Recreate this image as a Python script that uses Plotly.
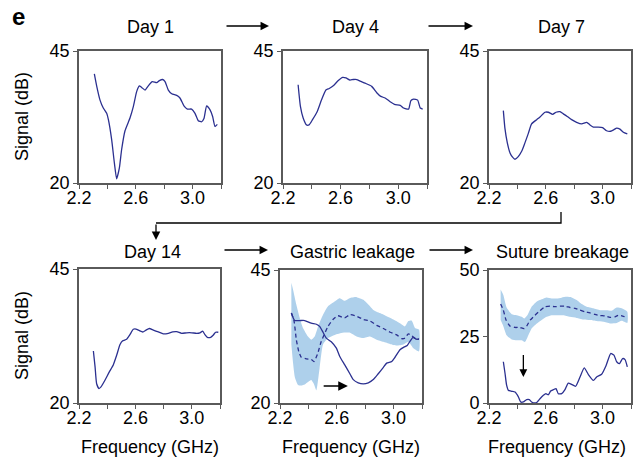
import plotly.graph_objects as go

# ---------------- data ----------------
day1_freq = [2.308, 2.325, 2.348, 2.371, 2.395, 2.407, 2.430, 2.449, 2.465, 2.484, 2.500, 2.524, 2.559, 2.583,
             2.606, 2.625, 2.641, 2.665, 2.688, 2.716, 2.747, 2.766, 2.789, 2.806, 2.829, 2.853, 2.888, 2.911,
             2.939, 2.963, 2.993, 3.017, 3.040, 3.064, 3.080, 3.099, 3.122, 3.141, 3.158, 3.174]
day1_sig = [40.65, 38.3, 35.7, 34.2, 33.2, 32.0, 28.2, 23.8, 20.8, 22.8, 26.3, 29.9, 32.3, 34.5,
            37.3, 38.4, 38.1, 37.6, 38.4, 39.2, 39.0, 39.4, 39.6, 39.2, 37.6, 36.9, 36.6, 36.1,
            34.6, 34.0, 34.0, 33.2, 31.8, 31.6, 32.2, 34.6, 33.9, 32.6, 30.7, 31.1]

day4_freq = [2.305, 2.321, 2.340, 2.363, 2.381, 2.405, 2.437, 2.467, 2.498, 2.521, 2.549, 2.584, 2.614, 2.637,
             2.665, 2.688, 2.712, 2.735, 2.770, 2.816, 2.851, 2.879, 2.909, 2.944, 2.974, 3.014, 3.037, 3.072,
             3.088, 3.107, 3.135, 3.153, 3.170]
day4_sig = [38.6, 34.5, 32.3, 31.0, 31.0, 32.0, 33.5, 35.7, 37.6, 37.9, 38.4, 39.4, 40.0, 39.9,
            39.5, 39.6, 39.6, 39.3, 38.9, 38.3, 37.1, 36.4, 36.1, 35.4, 34.9, 34.7, 34.2, 34.0,
            35.6, 35.9, 35.7, 34.2, 34.0]

day7_freq = [2.301, 2.312, 2.329, 2.348, 2.366, 2.383, 2.406, 2.430, 2.453, 2.477, 2.500, 2.536, 2.559, 2.594,
             2.618, 2.648, 2.672, 2.700, 2.723, 2.751, 2.782, 2.817, 2.853, 2.888, 2.911, 2.935, 2.969, 3.000,
             3.028, 3.057, 3.080, 3.099, 3.122, 3.146, 3.174]
day7_sig = [33.7, 30.4, 27.6, 25.7, 24.9, 24.5, 25.0, 26.0, 27.6, 29.4, 31.2, 32.0, 32.5, 33.4,
            33.4, 33.0, 33.4, 33.5, 33.1, 32.6, 32.0, 31.5, 31.2, 31.5, 31.0, 30.6, 30.6, 30.5,
            29.9, 29.8, 30.1, 30.4, 30.2, 29.6, 29.3]

day14_freq = [2.302, 2.314, 2.325, 2.342, 2.356, 2.384, 2.415, 2.443, 2.467, 2.491, 2.510, 2.538, 2.560, 2.585,
              2.604, 2.628, 2.652, 2.675, 2.699, 2.727, 2.763, 2.798, 2.834, 2.864, 2.893, 2.928, 2.964, 3.000,
              3.035, 3.058, 3.077, 3.093, 3.110, 3.134, 3.153, 3.169, 3.188]
day14_sig = [29.7, 26.75, 23.6, 22.7, 23.0, 24.25, 25.8, 27.1, 28.9, 30.9, 31.6, 31.9, 32.7, 33.75,
             33.8, 33.5, 33.25, 33.6, 33.9, 33.6, 33.25, 32.9, 33.0, 33.25, 33.3, 33.0, 33.1, 33.1,
             33.0, 33.1, 33.4, 32.75, 32.25, 32.25, 32.7, 33.2, 33.2]

# Gastric leakage
gl_freq = [2.280, 2.303, 2.339, 2.374, 2.420, 2.456, 2.479, 2.503, 2.526, 2.561, 2.597, 2.620, 2.655, 2.690,
           2.716, 2.751, 2.787, 2.822, 2.857, 2.892, 2.928, 2.951, 2.987, 3.010, 3.045, 3.073, 3.096, 3.115,
           3.139, 3.158, 3.179]
gl_sig = [36.9, 35.5, 35.5, 35.5, 35.0, 34.8, 34.4, 33.3, 32.2, 31.5, 30.3, 28.8, 27.2, 25.6,
          24.4, 23.8, 23.6, 23.8, 24.4, 25.5, 26.7, 27.5, 27.8, 28.6, 30.0, 30.5, 30.8, 31.6,
          32.4, 32.0, 32.0]
gl_mean_freq = [2.280, 2.299, 2.315, 2.332, 2.350, 2.385, 2.420, 2.439, 2.463, 2.491, 2.538, 2.573, 2.608, 2.655,
                2.693, 2.740, 2.787, 2.834, 2.881, 2.928, 2.975, 3.022, 3.057, 3.080, 3.104, 3.127, 3.146, 3.179]
gl_mean_sig = [36.9, 35.4, 31.9, 29.7, 28.6, 28.3, 28.2, 27.8, 29.1, 31.6, 34.4, 35.7, 36.4, 36.0,
               36.6, 36.3, 35.7, 35.4, 34.6, 34.0, 33.3, 32.8, 32.1, 32.2, 33.0, 32.7, 32.2, 32.0]
gl_up_freq = [2.280, 2.292, 2.315, 2.339, 2.362, 2.397, 2.420, 2.444, 2.468, 2.503, 2.538, 2.585, 2.620, 2.655,
              2.690, 2.740, 2.787, 2.822, 2.857, 2.904, 2.951, 2.998, 3.045, 3.080, 3.104, 3.127, 3.151, 3.179]
gl_up_sig = [42.6, 41.3, 38.5, 36.0, 34.1, 32.5, 31.9, 32.5, 34.4, 36.6, 38.2, 39.1, 39.7, 39.2,
             39.7, 39.9, 39.4, 38.5, 37.5, 36.9, 36.3, 35.7, 35.0, 34.4, 35.4, 35.5, 34.1, 33.8]
gl_lo_freq = [2.280, 2.292, 2.305, 2.327, 2.350, 2.374, 2.400, 2.420, 2.440, 2.456, 2.479, 2.503, 2.538, 2.585,
              2.644, 2.693, 2.740, 2.787, 2.834, 2.881, 2.928, 2.975, 3.022, 3.068, 3.104, 3.139, 3.179]
gl_lo_sig = [31.0, 27.5, 24.8, 23.4, 23.3, 23.5, 24.0, 24.3, 23.5, 22.4, 26.6, 31.0, 32.2, 32.8,
             33.2, 33.2, 32.5, 32.2, 32.5, 31.9, 31.5, 31.1, 30.8, 31.0, 31.5, 30.3, 29.7]

# Suture breakage
sb_freq = [2.301, 2.313, 2.324, 2.336, 2.360, 2.383, 2.407, 2.423, 2.442, 2.465, 2.484, 2.500, 2.524, 2.540,
           2.559, 2.583, 2.601, 2.618, 2.634, 2.653, 2.672, 2.688, 2.712, 2.735, 2.758, 2.782, 2.810, 2.841,
           2.871, 2.900, 2.935, 2.958, 2.993, 3.024, 3.057, 3.080, 3.099, 3.118, 3.141, 3.158, 3.174]
sb_sig = [15.5, 11.1, 6.7, 4.8, 4.4, 4.1, 2.3, 0.4, 0.4, 1.3, 1.3, 0.4, 0.0, 0.4,
          1.6, 2.9, 3.5, 3.1, 4.5, 5.0, 5.4, 3.5, 3.5, 5.0, 7.5, 7.0, 6.3, 9.8,
          13.2, 10.7, 8.5, 9.8, 10.8, 14.0, 18.6, 18.0, 15.5, 14.8, 16.7, 16.3, 13.6]
sb_mean_freq = [2.282, 2.301, 2.320, 2.348, 2.383, 2.418, 2.446, 2.465, 2.489, 2.524, 2.559, 2.594, 2.630, 2.665,
                2.700, 2.735, 2.770, 2.806, 2.841, 2.876, 2.911, 2.946, 2.982, 3.017, 3.052, 3.087, 3.111, 3.141, 3.174]
sb_mean_sig = [37.2, 34.9, 31.2, 28.9, 28.4, 28.4, 28.0, 28.9, 31.1, 33.0, 34.7, 36.2, 36.4, 36.2,
               36.4, 36.4, 35.9, 35.6, 34.9, 34.3, 33.9, 33.3, 32.9, 32.7, 32.2, 32.4, 33.0, 32.7, 32.0]
sb_up_freq = [2.282, 2.301, 2.324, 2.360, 2.395, 2.430, 2.449, 2.470, 2.500, 2.535, 2.571, 2.606, 2.641, 2.676,
              2.711, 2.747, 2.782, 2.817, 2.853, 2.888, 2.935, 2.982, 3.028, 3.064, 3.099, 3.134, 3.174]
sb_up_sig = [42.7, 40.6, 35.9, 33.4, 33.0, 32.4, 31.8, 33.0, 36.2, 38.1, 39.0, 39.7, 39.3, 39.3,
             39.6, 39.9, 39.7, 38.7, 37.2, 36.2, 35.6, 34.9, 34.9, 34.7, 35.9, 35.6, 34.3]
sb_lo_freq = [2.282, 2.301, 2.324, 2.360, 2.395, 2.430, 2.453, 2.472, 2.500, 2.535, 2.571, 2.606, 2.641, 2.676,
              2.723, 2.770, 2.817, 2.864, 2.911, 2.958, 3.005, 3.052, 3.099, 3.134, 3.174]
sb_lo_sig = [31.2, 28.9, 25.5, 23.9, 23.6, 23.6, 22.9, 24.8, 28.0, 29.8, 31.2, 32.4, 33.0, 33.0,
             33.0, 32.4, 32.0, 31.4, 31.2, 30.8, 30.5, 29.9, 30.1, 30.9, 30.1]

panel_titles = ["Day 1", "Day 4", "Day 7", "Day 14", "Gastric leakage", "Suture breakage"]
x_tick_vals = [2.2, 2.4, 2.6, 2.8, 3.0, 3.2]
x_tick_text = ["2.2", "", "2.6", "", "3.0", ""]
y_ticks_signal = [20, 45]
y_ticks_suture = [0, 25, 50]

# ---------------- layout helpers ----------------
W, H = 643, 462
def px(x):
    return x / W
def py(y):
    return 1 - y / H

LINE = "#2b3090"
BAND = "#aed0eb"
FRAME = "#5a5a5a"
FONT = "Liberation Sans, Arial, sans-serif"

# panel boxes (pixel positions)
boxes = [(79, 221, 51, 183), (283, 427, 51, 183), (489, 631, 51, 183),
         (79, 220, 269, 403), (280, 422, 270, 403), (489, 631, 270, 403)]

fig = go.Figure()

def add_line(i, xs, ys, dash=None):
    fig.add_trace(go.Scatter(x=xs, y=ys, mode="lines",
                             line=dict(color=LINE, width=1.3, dash=dash, shape="spline", smoothing=0.5),
                             xaxis=f"x{i+1}", yaxis=f"y{i+1}", showlegend=False, hoverinfo="skip"))

def add_band(i, ux, uy, lx, ly):
    fig.add_trace(go.Scatter(x=list(ux) + list(reversed(lx)), y=list(uy) + list(reversed(ly)),
                             mode="lines", fill="toself", fillcolor=BAND, line=dict(width=0, shape="spline", smoothing=0.5),
                             xaxis=f"x{i+1}", yaxis=f"y{i+1}", showlegend=False, hoverinfo="skip"))

add_line(0, day1_freq, day1_sig)
add_line(1, day4_freq, day4_sig)
add_line(2, day7_freq, day7_sig)
add_line(3, day14_freq, day14_sig)
add_band(4, gl_up_freq, gl_up_sig, gl_lo_freq, gl_lo_sig)
add_line(4, gl_mean_freq, gl_mean_sig, dash="4px,3px")
add_line(4, gl_freq, gl_sig)
add_band(5, sb_up_freq, sb_up_sig, sb_lo_freq, sb_lo_sig)
add_line(5, sb_mean_freq, sb_mean_sig, dash="4px,3px")
add_line(5, sb_freq, sb_sig)

layout = dict(width=W, height=H, margin=dict(l=0, r=0, t=0, b=0, autoexpand=False),
              template="none",
              paper_bgcolor="white", plot_bgcolor="white", showlegend=False,
              font=dict(family=FONT, size=18, color="black"))

for i, (x0, x1, y0, y1) in enumerate(boxes):
    xa = dict(domain=[px(x0), px(x1)], range=[2.2, 3.2], anchor=f"y{i+1}", automargin=False,
              tickvals=x_tick_vals, ticktext=x_tick_text, ticks="outside", ticklen=4, tickwidth=1.2,
              ticklabelstandoff=-6,
              tickcolor=FRAME, showline=True, linecolor=FRAME, linewidth=1.6, mirror=True,
              showgrid=False, zeroline=False, tickfont=dict(size=18, family=FONT, color="black"),
              fixedrange=True)
    ya = dict(domain=[py(y1), py(y0)], anchor=f"x{i+1}", automargin=False,
              range=[0, 50] if i == 5 else [20, 45],
              tickvals=y_ticks_suture if i == 5 else y_ticks_signal,
              ticks="outside", ticklen=4, tickwidth=1.2, tickcolor=FRAME,
              showline=True, linecolor=FRAME, linewidth=1.6, mirror=True,
              showgrid=False, zeroline=False, tickfont=dict(size=18, family=FONT, color="black"),
              fixedrange=True)
    layout[f"xaxis{i+1}" if i else "xaxis"] = xa
    layout[f"yaxis{i+1}" if i else "yaxis"] = ya

fig.update_layout(**layout)

annotations = []
title_pos = [(150, 27), (355, 27), (561, 27), (152, 252), (352, 252), (562, 252)]
for t, (x, y) in zip(panel_titles, title_pos):
    annotations.append(dict(text=t, x=px(x), y=py(y), xref="paper", yref="paper",
                            showarrow=False, xanchor="center", yanchor="middle", font=dict(size=18)))
annotations.append(dict(text="<b>e</b>", x=px(18), y=py(16), xref="paper", yref="paper",
                        showarrow=False, xanchor="center", yanchor="middle", font=dict(size=24)))
for yc in (117, 336):
    annotations.append(dict(text="Signal (dB)", x=px(22), y=py(yc), xref="paper", yref="paper",
                            showarrow=False, textangle=-90, xanchor="center", yanchor="middle", font=dict(size=18)))
for xc in (150, 351, 557):
    annotations.append(dict(text="Frequency (GHz)", x=px(xc), y=py(447), xref="paper", yref="paper",
                            showarrow=False, xanchor="center", yanchor="middle", font=dict(size=18)))

# flow arrows between panels (pixel geometry)
flow = [((225, 26), (269, 26)), ((427, 26), (473, 26)),
        ((223, 250), (268, 250)), ((428, 250), (473, 250)),
        ((156, 223), (156, 240))]
for (tx, ty), (hx, hy) in flow:
    annotations.append(dict(text="", x=px(hx), y=py(hy), xref="paper", yref="paper",
                            ax=tx - hx, ay=ty - hy, axref="pixel", ayref="pixel",
                            showarrow=True, arrowhead=2, arrowsize=1.3, arrowwidth=1.3, arrowcolor="black"))

# in-panel arrows (data coordinates)
annotations.append(dict(text="", x=2.678, y=23.2, xref="x5", yref="y5", ax=2.497, ay=23.2,
                        axref="x5", ayref="y5", showarrow=True, arrowhead=2, arrowsize=1.2,
                        arrowwidth=1.6, arrowcolor="black"))
annotations.append(dict(text="", x=2.442, y=9.8, xref="x6", yref="y6", ax=2.442, ay=18.6,
                        axref="x6", ayref="y6", showarrow=True, arrowhead=2, arrowsize=1.2,
                        arrowwidth=1.3, arrowcolor="black"))
fig.update_layout(annotations=annotations)

# connector from Day 7 to Day 14
fig.add_shape(type="path", xref="paper", yref="paper",
              path=f"M {px(561)},{py(212)} L {px(561)},{py(223)} L {px(156)},{py(223)}",
              line=dict(color="black", width=1.3))

fig.write_html("out.html", config={"displayModeBar": False},
               post_script="document.body.style.margin='0px';")
